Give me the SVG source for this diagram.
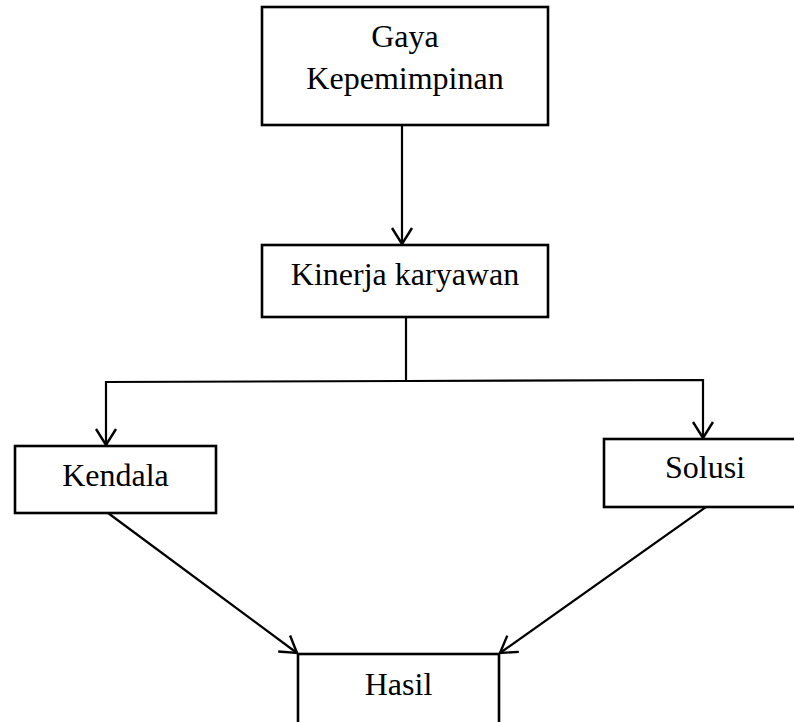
<svg xmlns="http://www.w3.org/2000/svg" width="794" height="722" viewBox="0 0 794 722">
<style>
.box{fill:#fff;stroke:#000;stroke-width:2.6}
.lbl{font-family:"Liberation Serif","Times New Roman",serif;font-size:32px;fill:#000;text-anchor:middle}
.con{fill:none;stroke:#000;stroke-width:2.2}
</style>
<defs>
<marker id="arr" markerUnits="userSpaceOnUse" viewBox="-20 -14 24 28" refX="0" refY="0" markerWidth="24" markerHeight="28" orient="auto" overflow="visible">
<path d="M-16,-10 L0,0 L-16,10" fill="none" stroke="#000" stroke-width="2.4"/>
</marker>
</defs>
<rect width="794" height="722" fill="#fff"/>
<g id="connectors">
<line class="con" x1="402" y1="125" x2="402" y2="244" marker-end="url(#arr)"/>
<polyline class="con" points="406,317 406,381"/>
<polyline class="con" points="406,381 106,382 106,445" marker-end="url(#arr)"/>
<polyline class="con" points="406,381 703,380 703,438" marker-end="url(#arr)"/>
<line class="con" x1="108" y1="513" x2="297" y2="653" marker-end="url(#arr)"/>
<line class="con" x1="706" y1="507" x2="500" y2="653" marker-end="url(#arr)"/>
</g>
<g id="gaya">
<rect class="box" x="262" y="7" width="286" height="118"/>
<text class="lbl" x="405" y="47">Gaya</text>
<text class="lbl" x="405" y="89">Kepemimpinan</text>
</g>
<g id="kinerja">
<rect class="box" x="262" y="245" width="286" height="72"/>
<text class="lbl" x="405" y="285">Kinerja karyawan</text>
</g>
<g id="kendala">
<rect class="box" x="15" y="446" width="201" height="67"/>
<text class="lbl" x="115.5" y="486">Kendala</text>
</g>
<g id="solusi">
<rect class="box" x="604" y="439" width="202" height="68"/>
<text class="lbl" x="705" y="478">Solusi</text>
</g>
<g id="hasil">
<rect class="box" x="298" y="654" width="201" height="72"/>
<text class="lbl" x="398.5" y="695">Hasil</text>
</g>
</svg>
